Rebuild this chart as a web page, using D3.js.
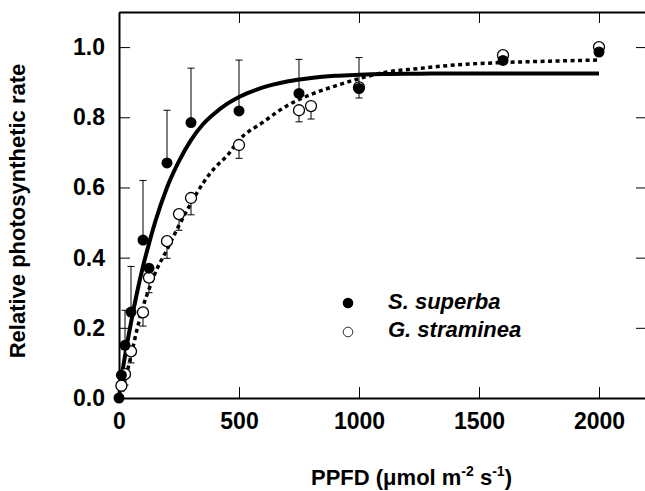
<!DOCTYPE html>
<html>
<head>
<meta charset="utf-8">
<script src="https://cdn.jsdelivr.net/npm/d3@7"></script>
<style>
  html, body { margin: 0; padding: 0; background: #fff; }
  svg { display: block; font-family: "Liberation Sans", Arial, sans-serif; }
</style>
</head>
<body>
<div id="chart"></div>
<script>
// S. superba (filled circles), upper error bars
const ppfdSuperba = [0, 10, 25, 50, 100, 125, 200, 300, 500, 750, 1000, 1600, 2000];
const rateSuperba = [0, 0.065, 0.15, 0.245, 0.45, 0.37, 0.67, 0.785, 0.818, 0.868, 0.882, 0.962, 0.986];
const errTopSuperba = [null, null, 0.25, 0.375, 0.62, null, 0.82, 0.94, 0.963, 0.965, 0.97, null, null];

// G. straminea (open circles), lower error bars
const ppfdStraminea = [10, 25, 50, 100, 125, 200, 250, 300, 500, 750, 800, 1000, 1600, 2000];
const rateStraminea = [0.035, 0.068, 0.133, 0.244, 0.343, 0.447, 0.524, 0.57, 0.721, 0.82, 0.832, 0.885, 0.977, 1.0];
const errLowStraminea = [0.02, 0.037, 0.10, 0.205, 0.30, 0.398, 0.478, 0.522, 0.683, 0.787, 0.795, 0.855, null, null];

// fitted curves
const fitPpfd = [0, 10, 25, 50, 75, 100, 125, 150, 200, 250, 300, 350, 400, 450, 500, 600, 700, 800, 900, 1000, 1100, 1250, 1400, 1600, 1800, 2000];
const fitSuperba = [0, 0.055, 0.12, 0.215, 0.30, 0.375, 0.44, 0.50, 0.60, 0.675, 0.735, 0.78, 0.812, 0.838, 0.858, 0.885, 0.902, 0.912, 0.918, 0.921, 0.923, 0.924, 0.925, 0.925, 0.925, 0.925];
const fitStraminea = [0, 0.015, 0.05, 0.12, 0.195, 0.26, 0.31, 0.355, 0.423, 0.492, 0.555, 0.612, 0.657, 0.69, 0.735, 0.786, 0.833, 0.865, 0.889, 0.91, 0.927, 0.939, 0.949, 0.956, 0.96, 0.963];

const xTicks = [0, 500, 1000, 1500, 2000];
const yTicks = [0, 0.2, 0.4, 0.6, 0.8, 1.0];

const width = 645, height = 491;
const margin = { top: 12, right: -2, bottom: 93, left: 119 };
const fontSize = "22px";
const tickFont = "23px";

const svg = d3.select("#chart").append("svg")
  .attr("width", width)
  .attr("height", height);

const x = d3.scaleLinear().domain([0, 2200]).range([margin.left, width - margin.right]);
const y = d3.scaleLinear().domain([0, 1.1]).range([height - margin.bottom, margin.top]);

// frame + ticks (all pointing inward)
function styleAxis(g, showLabels) {
  g.select(".domain").attr("stroke", "#000").attr("stroke-width", 2);
  g.selectAll(".tick line").attr("stroke", "#000").attr("stroke-width", 1);
  g.selectAll(".tick text")
    .attr("fill", "#000")
    .style("font-size", tickFont)
    .style("font-weight", "bold")
    .style("display", showLabels ? null : "none");
}

svg.append("g")
  .attr("transform", `translate(0,${y(0)})`)
  .call(d3.axisBottom(x).tickValues(xTicks).tickSize(-11).tickSizeOuter(0).tickPadding(15).tickFormat(d3.format("d")))
  .call(g => styleAxis(g, true));

svg.append("g")
  .attr("transform", `translate(0,${y(1.1)})`)
  .call(d3.axisTop(x).tickValues(xTicks).tickSize(-11).tickSizeOuter(0))
  .call(g => styleAxis(g, false));

svg.append("g")
  .attr("transform", `translate(${x(0)},0)`)
  .call(d3.axisLeft(y).tickValues(yTicks).tickSize(-11).tickSizeOuter(0).tickPadding(14).tickFormat(d3.format(".1f")))
  .call(g => styleAxis(g, true));

svg.append("g")
  .attr("transform", `translate(${x(2200)},0)`)
  .call(d3.axisRight(y).tickValues(yTicks).tickSize(-11).tickSizeOuter(0))
  .call(g => styleAxis(g, false));

// fitted curves
const line = d3.line()
  .x((d, i) => x(fitPpfd[i]))
  .y(d => y(d))
  .curve(d3.curveMonotoneX);

svg.append("path")
  .datum(fitStraminea)
  .attr("fill", "none")
  .attr("stroke", "#000")
  .attr("stroke-width", 3.5)
  .attr("stroke-dasharray", "4,3.5")
  .attr("d", line);

svg.append("path")
  .datum(fitSuperba)
  .attr("fill", "none")
  .attr("stroke", "#000")
  .attr("stroke-width", 4)
  .attr("d", line);

const capW = 3.5;
const r = 5.5;

// G. straminea error bars + open circles
const straminea = ppfdStraminea.map((p, i) => ({ p, v: rateStraminea[i], e: errLowStraminea[i] }));
const gS = svg.append("g");
straminea.filter(d => d.e != null).forEach(d => {
  gS.append("line").attr("x1", x(d.p)).attr("x2", x(d.p)).attr("y1", y(d.v)).attr("y2", y(d.e))
    .attr("stroke", "#000").attr("stroke-width", 1);
  gS.append("line").attr("x1", x(d.p) - capW).attr("x2", x(d.p) + capW).attr("y1", y(d.e)).attr("y2", y(d.e))
    .attr("stroke", "#000").attr("stroke-width", 1);
});
gS.selectAll("circle")
  .data(straminea)
  .join("circle")
  .attr("cx", d => x(d.p))
  .attr("cy", d => y(d.v))
  .attr("r", r)
  .attr("fill", "#fff")
  .attr("stroke", "#000")
  .attr("stroke-width", 1.3);

// S. superba error bars + filled circles
const superba = ppfdSuperba.map((p, i) => ({ p, v: rateSuperba[i], e: errTopSuperba[i] }));
const gB = svg.append("g");
superba.filter(d => d.e != null).forEach(d => {
  gB.append("line").attr("x1", x(d.p)).attr("x2", x(d.p)).attr("y1", y(d.v)).attr("y2", y(d.e))
    .attr("stroke", "#000").attr("stroke-width", 1);
  gB.append("line").attr("x1", x(d.p) - capW).attr("x2", x(d.p) + capW).attr("y1", y(d.e)).attr("y2", y(d.e))
    .attr("stroke", "#000").attr("stroke-width", 1);
});
gB.selectAll("circle")
  .data(superba)
  .join("circle")
  .attr("cx", d => x(d.p))
  .attr("cy", d => y(d.v))
  .attr("r", r)
  .attr("fill", "#000");

// legend
const legend = svg.append("g").attr("transform", "translate(348,303)");
legend.append("circle").attr("cx", 0).attr("cy", 0).attr("r", 5.3).attr("fill", "#000");
legend.append("circle").attr("cx", 0).attr("cy", 29).attr("r", 4.8).attr("fill", "#fff")
  .attr("stroke", "#000").attr("stroke-width", 0.8);
legend.append("text").attr("x", 40).attr("y", 6)
  .style("font-size", fontSize).style("font-weight", "bold").style("font-style", "italic")
  .text("S. superba");
legend.append("text").attr("x", 40).attr("y", 34)
  .style("font-size", fontSize).style("font-weight", "bold").style("font-style", "italic")
  .text("G. straminea");

// axis titles
svg.append("text")
  .attr("transform", "translate(25,211) rotate(-90)")
  .attr("text-anchor", "middle")
  .style("font-size", fontSize).style("font-weight", "bold")
  .text("Relative photosynthetic rate");

const xt = svg.append("text")
  .attr("x", 311).attr("y", 485)
  .style("font-size", fontSize).style("font-weight", "bold");
xt.append("tspan").text("PPFD (\u03bcmol m");
xt.append("tspan").attr("dy", -9).style("font-size", "14px").text("-2");
xt.append("tspan").attr("dy", 9).text(" s");
xt.append("tspan").attr("dy", -9).style("font-size", "14px").text("-1");
xt.append("tspan").attr("dy", 9).text(")");
</script>
</body>
</html>
